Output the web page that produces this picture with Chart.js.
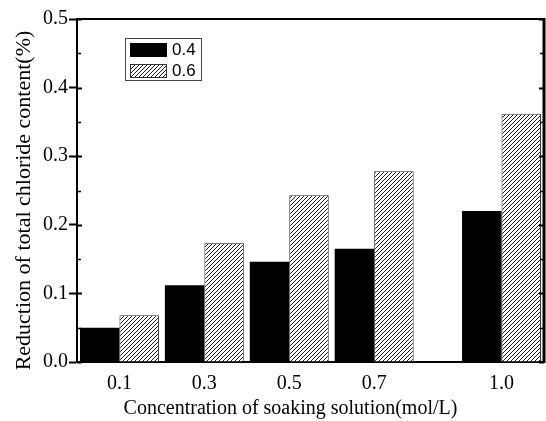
<!DOCTYPE html>
<html>
<head>
<meta charset="utf-8">
<script src="https://cdn.jsdelivr.net/npm/chart.js@4.4.1/dist/chart.umd.min.js"></script>
<style>
  html, body { margin: 0; padding: 0; background: #fff; }
</style>
</head>
<body>
<canvas id="myChart" width="546" height="421"></canvas>
<script>
// Chloride reduction per soaking concentration, two series
var concentrations = [0.1, 0.3, 0.5, 0.7, 1.0];
var reduction04 = [0.050, 0.112, 0.146, 0.165, 0.220];
var reduction06 = [0.068, 0.174, 0.243, 0.278, 0.362];
var seriesLabels = ['0.4', '0.6'];
var yTicks = [0.0, 0.1, 0.2, 0.3, 0.4, 0.5];
var xTitle = 'Concentration of soaking solution(mol/L)';
var yTitle = 'Reduction of total chloride content(%)';

var serif = '"Liberation Serif", "Times New Roman", serif';
var sans = '"Liberation Sans", Arial, sans-serif';

// diagonal hatch fill for the second series
function makeHatch() {
  var c = document.createElement('canvas');
  c.width = 4; c.height = 4;
  var g = c.getContext('2d');
  g.fillStyle = '#fff';
  g.fillRect(0, 0, 4, 4);
  g.strokeStyle = '#1a1a1a';
  g.lineWidth = 1;
  g.beginPath();
  g.moveTo(0, 4); g.lineTo(4, 0);
  g.moveTo(-1, 1); g.lineTo(1, -1);
  g.moveTo(3, 5); g.lineTo(5, 3);
  g.stroke();
  return g.createPattern(c, 'repeat');
}
var hatch = makeHatch();

function toPoints(values) {
  return concentrations.map(function(x, i) { return { x: x, y: values[i] }; });
}

// frame on top/right, inner tick marks, axis titles and the boxed legend
var framePlugin = {
  id: 'frame',
  afterDraw: function(chart) {
    var ctx = chart.ctx;
    var a = chart.chartArea;
    var y = chart.scales.y;
    ctx.save();
    ctx.strokeStyle = '#000';

    // top and right edges
    ctx.lineWidth = 2;
    ctx.beginPath();
    ctx.moveTo(a.left - 1, a.top);
    ctx.lineTo(a.right, a.top);
    ctx.stroke();
    ctx.lineWidth = 3;
    ctx.beginPath();
    ctx.moveTo(a.right, a.top - 1);
    ctx.lineTo(a.right, a.bottom + 1);
    ctx.stroke();

    // inward ticks on left and right sides
    for (var v = 0; v <= 0.5001; v += 0.05) {
      var py = Math.round(y.getPixelForValue(v)) + 0.5;
      var major = Math.abs(v * 10 - Math.round(v * 10)) < 1e-6;
      var len = major ? 5 : 4;
      ctx.lineWidth = major ? 2 : 1.5;
      ctx.beginPath();
      ctx.moveTo(a.left, py); ctx.lineTo(a.left + len, py);
      ctx.moveTo(a.right, py); ctx.lineTo(a.right - len, py);
      ctx.stroke();
    }

    // axis titles
    ctx.fillStyle = '#000';
    ctx.textAlign = 'center';
    ctx.textBaseline = 'middle';
    ctx.font = '20px ' + serif;
    ctx.fillText(xTitle, (a.left + a.right) / 2 - 20, chart.height - 12);
    ctx.save();
    ctx.translate(24.5, (a.top + a.bottom) / 2 + 10);
    ctx.rotate(-Math.PI / 2);
    ctx.font = '22px ' + serif;
    ctx.fillText(yTitle, 0, 0);
    ctx.restore();

    // legend box
    var bx = a.left + 48, by = a.top + 19, bw = 76, bh = 42;
    ctx.lineWidth = 1;
    ctx.strokeStyle = '#444';
    ctx.strokeRect(bx + 0.5, by + 0.5, bw, bh);
    var fills = chart.data.datasets.map(function(d) { return d.backgroundColor; });
    ctx.font = '17px ' + sans;
    ctx.textBaseline = 'middle';
    ctx.textAlign = 'left';
    for (var i = 0; i < fills.length; i++) {
      var sy = by + 5 + i * 21;
      ctx.fillStyle = fills[i];
      ctx.fillRect(bx + 5, sy, 37, 14);
      if (i > 0) {
        ctx.strokeStyle = '#333';
        ctx.strokeRect(bx + 5.5, sy + 0.5, 36, 13);
      }
      ctx.fillStyle = '#000';
      ctx.fillText(chart.data.datasets[i].label, bx + 47, sy + 7.5);
    }
    ctx.restore();
  }
};

var config = {
  type: 'bar',
  data: {
    datasets: [{
      label: seriesLabels[0],
      data: toPoints(reduction04),
      backgroundColor: '#000',
      borderWidth: 0
    }, {
      label: seriesLabels[1],
      data: toPoints(reduction06),
      backgroundColor: hatch,
      borderColor: '#333',
      borderWidth: 1
    }]
  },
  options: {
    responsive: false,
    animation: false,
    layout: { padding: { top: 19, right: 2, left: 0, bottom: 0 } },
    datasets: { bar: { categoryPercentage: 0.93, barPercentage: 1.0 } },
    plugins: {
      legend: { display: false },
      tooltip: { enabled: false }
    },
    scales: {
      x: {
        type: 'linear',
        min: 0,
        max: 1.1,
        offset: false,
        afterBuildTicks: function(s) {
          s.ticks = concentrations.map(function(v) { return { value: v }; });
        },
        afterFit: function(s) { s.height = 59; },
        grid: { display: false, drawTicks: false },
        border: { display: true, color: '#000', width: 2 },
        ticks: {
          padding: 10,
          color: '#000',
          autoSkip: false,
          maxRotation: 0,
          font: { family: serif, size: 20 },
          callback: function(v) { return Number(v).toFixed(1); }
        }
      },
      y: {
        min: 0,
        max: 0.5,
        afterBuildTicks: function(s) {
          s.ticks = yTicks.map(function(v) { return { value: v }; });
        },
        afterFit: function(s) { s.width = 77; },
        grid: { drawOnChartArea: false, drawTicks: true, tickLength: 8, tickWidth: 2, tickColor: '#000' },
        border: { color: '#000', width: 2 },
        ticks: {
          padding: 1,
          color: '#000',
          font: { family: serif, size: 20 },
          callback: function(v) { return Number(v).toFixed(1); }
        }
      }
    }
  },
  plugins: [framePlugin]
};

var ctx = document.getElementById('myChart').getContext('2d');
var myChart = new Chart(ctx, config);
</script>
</body>
</html>
